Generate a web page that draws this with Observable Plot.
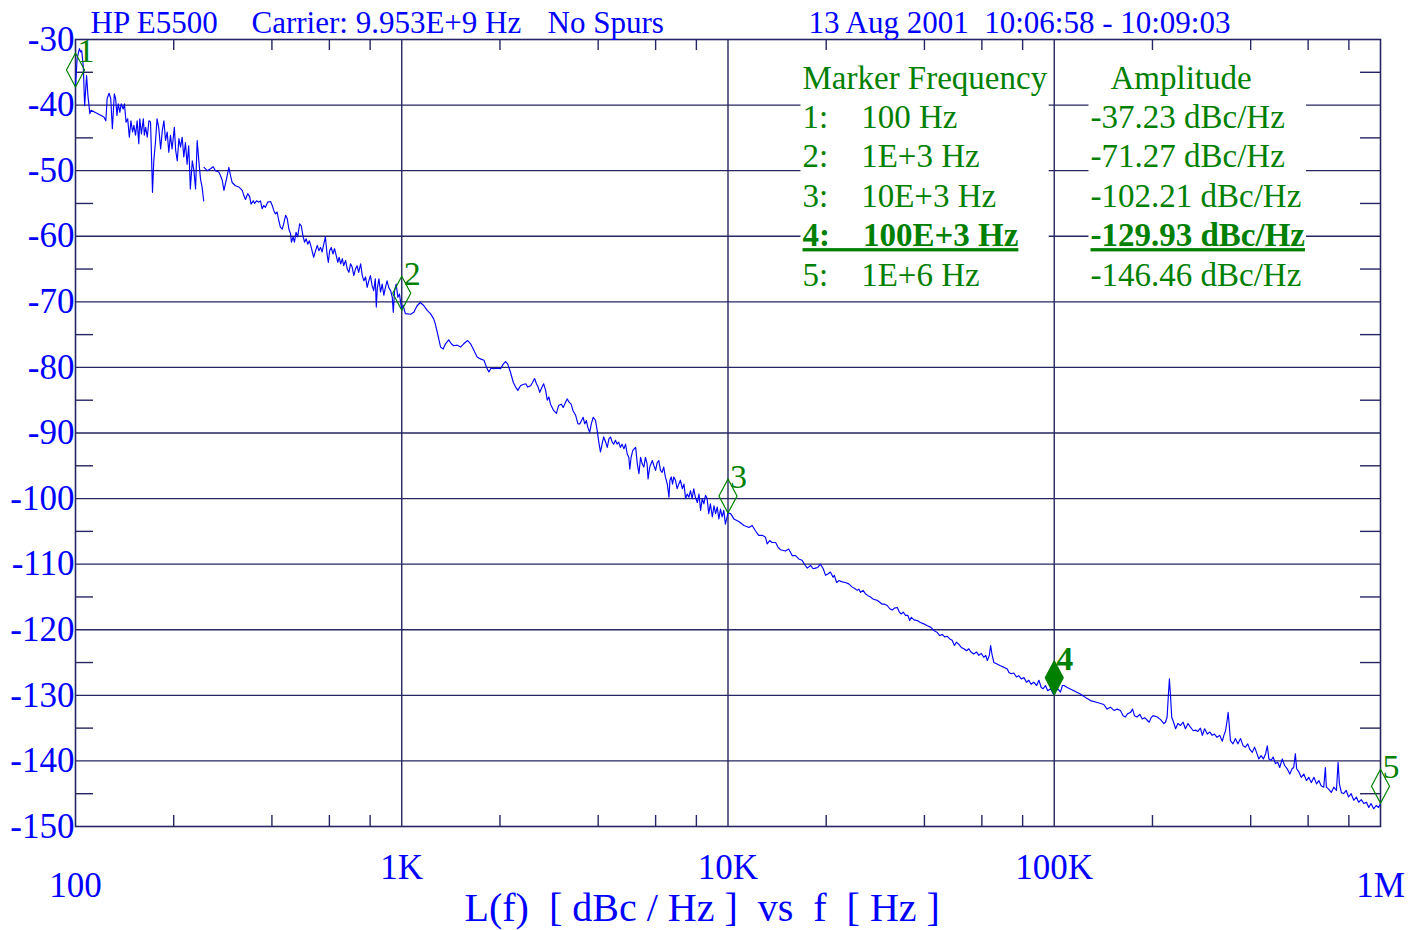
<!DOCTYPE html>
<html><head><meta charset="utf-8">
<script src="https://cdn.jsdelivr.net/npm/d3@7"></script>
<script src="https://cdn.jsdelivr.net/npm/@observablehq/plot@0.6"></script>
<style>
html,body{margin:0;padding:0;background:#fff;}
#chart svg{display:block;}
</style>
</head><body><div id="chart"></div>
<script>
// ---- data ----
// offset frequency as log10(Hz)
const traceLogF = [
2.000,2.005,2.012,2.016,2.019,2.024,2.028,2.034,2.038,2.044,2.048,2.087,2.093,2.097,2.103,2.108,2.113,2.119,2.123,2.127,
2.131,2.136,2.140,2.146,2.150,2.155,2.160,2.165,2.170,2.175,2.179,2.184,2.189,2.194,2.197,2.202,2.208,2.211,2.215,2.220,
2.225,2.230,2.234,2.236,2.240,2.245,2.250,2.255,2.261,2.266,2.271,2.276,2.281,2.286,2.291,2.296,2.303,2.307,2.312,2.317,
2.322,2.327,2.332,2.337,2.342,2.347,2.350,2.352,2.358,2.363,2.368,2.373,2.378,2.383,2.388,2.393,2.393,2.394,2.404,2.414,
2.422,2.429,2.439,2.444,2.450,2.455,2.463,2.470,2.475,2.480,2.490,2.501,2.511,2.516,2.521,2.528,2.534,2.538,2.545,2.549,
2.555,2.562,2.567,2.572,2.577,2.582,2.589,2.598,2.603,2.608,2.613,2.618,2.623,2.628,2.634,2.638,2.644,2.649,2.654,2.659,
2.662,2.667,2.671,2.676,2.681,2.687,2.692,2.697,2.702,2.707,2.712,2.717,2.721,2.726,2.730,2.736,2.741,2.746,2.751,2.756,
2.761,2.766,2.771,2.775,2.779,2.784,2.789,2.794,2.799,2.804,2.808,2.813,2.818,2.822,2.828,2.833,2.838,2.843,2.848,2.853,
2.858,2.863,2.868,2.874,2.879,2.884,2.889,2.894,2.899,2.904,2.909,2.914,2.919,2.922,2.925,2.930,2.935,2.940,2.945,2.950,
2.955,2.960,2.966,2.971,2.974,2.978,2.983,2.988,2.993,3.000,3.004,3.011,3.027,3.037,3.047,3.057,3.068,3.078,3.088,3.098,
3.103,3.110,3.119,3.127,3.134,3.144,3.152,3.159,3.170,3.180,3.190,3.202,3.211,3.221,3.231,3.241,3.252,3.260,3.267,3.274,
3.282,3.293,3.303,3.311,3.318,3.325,3.333,3.342,3.349,3.356,3.364,3.372,3.380,3.386,3.395,3.401,3.407,3.413,3.418,3.423,
3.430,3.435,3.441,3.446,3.451,3.456,3.461,3.466,3.474,3.481,3.489,3.495,3.502,3.507,3.513,3.519,3.525,3.533,3.540,3.546,
3.551,3.556,3.561,3.566,3.570,3.576,3.581,3.587,3.594,3.599,3.604,3.609,3.614,3.619,3.625,3.630,3.635,3.640,3.645,3.650,
3.655,3.660,3.665,3.670,3.675,3.681,3.686,3.691,3.696,3.699,3.703,3.708,3.713,3.717,3.722,3.727,3.732,3.737,3.742,3.747,
3.752,3.755,3.760,3.768,3.773,3.778,3.783,3.788,3.793,3.798,3.803,3.808,3.814,3.819,3.822,3.826,3.830,3.834,3.839,3.844,
3.849,3.854,3.860,3.865,3.870,3.875,3.880,3.885,3.890,3.895,3.900,3.906,3.911,3.916,3.921,3.926,3.931,3.936,3.941,3.946,
3.952,3.957,3.962,3.967,3.972,3.977,3.982,3.987,3.992,4.000,4.008,4.018,4.033,4.049,4.064,4.074,4.084,4.094,4.105,4.115,
4.120,4.128,4.135,4.146,4.153,4.161,4.176,4.186,4.197,4.207,4.217,4.227,4.237,4.243,4.253,4.261,4.268,4.275,4.283,4.292,
4.299,4.306,4.314,4.322,4.326,4.333,4.340,4.350,4.360,4.370,4.381,4.391,4.396,4.401,4.406,4.414,4.421,4.429,4.437,4.444,
4.450,4.457,4.465,4.473,4.480,4.488,4.496,4.503,4.510,4.519,4.525,4.531,4.537,4.544,4.551,4.557,4.562,4.570,4.580,4.590,
4.600,4.611,4.621,4.631,4.641,4.649,4.657,4.664,4.672,4.680,4.687,4.694,4.700,4.707,4.715,4.723,4.731,4.738,4.745,4.753,
4.762,4.769,4.776,4.784,4.790,4.795,4.801,4.805,4.809,4.815,4.823,4.835,4.845,4.856,4.861,4.868,4.876,4.884,4.891,4.899,
4.907,4.915,4.922,4.929,4.937,4.946,4.953,4.960,4.966,4.973,4.980,4.989,4.997,5.000,5.004,5.011,5.019,5.025,5.030,5.040,
5.060,5.080,5.101,5.111,5.132,5.152,5.162,5.172,5.183,5.193,5.203,5.211,5.218,5.225,5.234,5.240,5.246,5.254,5.262,5.270,
5.277,5.285,5.291,5.297,5.303,5.316,5.326,5.336,5.341,5.346,5.350,5.353,5.356,5.360,5.367,5.372,5.379,5.387,5.395,5.402,
5.410,5.418,5.426,5.433,5.440,5.448,5.454,5.461,5.469,5.477,5.484,5.491,5.499,5.507,5.515,5.520,5.525,5.530,5.533,5.536,
5.540,5.548,5.555,5.563,5.571,5.579,5.586,5.593,5.599,5.607,5.614,5.620,5.627,5.634,5.641,5.648,5.653,5.658,5.665,5.671,
5.678,5.685,5.691,5.699,5.706,5.714,5.722,5.729,5.734,5.739,5.743,5.750,5.757,5.765,5.773,5.780,5.788,5.796,5.804,5.811,
5.818,5.826,5.831,5.834,5.841,5.849,5.857,5.865,5.870,5.874,5.880,5.887,5.895,5.902,5.910,5.918,5.926,5.933,5.941,5.949,
5.957,5.964,5.971,5.979,5.987,5.994,6.000
];
// L(f) in dBc/Hz (NaN = break in the trace)
const traceDbc = [
-37.2,-32.9,-31.4,-31.9,-31.7,-34.2,-40.1,-35.5,-38.5,-41.3,-40.8,-41.8,-42.4,-39.0,-38.2,-39.0,-43.6,-38.3,-39.0,-41.6,
-39.8,-41.1,-39.8,-40.6,-39.8,-42.6,-42.1,-44.9,-42.4,-44.1,-43.1,-44.6,-42.4,-45.9,-42.1,-44.4,-42.1,-44.6,-43.4,-44.9,
-42.4,-42.6,-49.5,-53.3,-48.5,-45.7,-42.1,-43.4,-46.7,-43.9,-42.4,-45.4,-44.1,-47.2,-44.6,-46.7,-43.4,-46.9,-48.5,-45.1,
-46.4,-44.9,-47.9,-45.7,-49.0,-46.2,-50.0,-52.8,-48.5,-50.0,-52.8,-45.4,-48.5,-51.2,-52.5,-54.6,NaN,-49.5,-50.0,-49.7,
-49.4,-50.0,-50.2,-50.7,-51.5,-53.0,-51.2,-49.5,-50.7,-51.8,-52.3,-52.5,-53.0,-53.8,-54.4,-53.5,-54.0,-55.1,-54.6,-55.0,
-54.6,-54.8,-54.6,-55.8,-55.3,-55.6,-54.8,-54.7,-55.3,-56.1,-56.6,-56.3,-57.6,-58.6,-58.9,-58.1,-56.8,-57.3,-58.9,-59.6,
-60.9,-60.1,-60.9,-59.4,-60.1,-58.1,-58.4,-59.9,-60.9,-60.4,-61.2,-60.7,-61.4,-62.4,-63.2,-62.2,-61.4,-62.2,-61.7,-62.4,
-61.2,-60.1,-62.7,-64.0,-62.2,-61.7,-62.7,-61.9,-62.9,-64.0,-63.2,-64.2,-63.4,-64.5,-63.7,-65.0,-65.5,-64.2,-64.7,-66.0,
-65.0,-64.5,-65.5,-64.2,-66.0,-66.8,-66.2,-67.8,-66.8,-66.0,-67.5,-68.3,-66.5,-70.8,-68.0,-66.5,-68.5,-67.3,-69.0,-67.8,
-66.8,-67.8,-68.3,-69.3,-71.6,-68.3,-67.3,-69.3,-68.8,-71.3,-70.5,-71.8,-71.9,-71.6,-70.6,-70.1,-70.6,-71.3,-71.8,-72.6,
-73.4,-74.9,-76.9,-77.2,-76.4,-75.8,-76.4,-76.7,-76.6,-76.9,-76.4,-75.9,-76.4,-77.4,-78.4,-78.7,-78.9,-80.0,-80.7,-80.1,
-80.2,-80.1,-80.2,-79.5,-79.1,-79.5,-80.7,-82.3,-83.0,-83.5,-82.8,-82.6,-82.5,-83.0,-82.8,-82.3,-81.7,-82.5,-83.0,-83.8,
-83.0,-82.5,-83.5,-85.0,-84.5,-85.6,-86.1,-86.6,-87.0,-85.8,-85.6,-86.1,-85.3,-84.8,-85.3,-85.6,-86.6,-87.3,-88.6,-88.6,
-88.1,-87.6,-88.6,-88.1,-89.1,-89.9,-88.6,-87.6,-88.1,-89.6,-91.4,-92.9,-91.7,-90.6,-91.4,-92.2,-90.9,-90.6,-91.4,-91.7,
-91.1,-91.7,-91.4,-92.2,-91.7,-92.4,-91.7,-93.2,-93.7,-95.5,-93.7,-92.7,-92.4,-92.2,-94.7,-96.2,-93.7,-94.7,-95.2,-93.7,
-94.7,-97.0,-95.2,-94.2,-95.0,-95.7,-94.5,-94.2,-95.7,-96.0,-95.2,-96.7,-97.8,-99.8,-97.2,-96.7,-97.8,-96.7,-97.2,-98.5,
-97.8,-97.2,-98.5,-97.8,-100.0,-99.3,-99.8,-98.8,-100.0,-98.5,-99.8,-100.6,-99.3,-101.8,-100.0,-100.8,-99.5,-100.0,-102.3,-100.8,
-102.8,-101.1,-102.3,-101.3,-103.1,-101.6,-102.8,-101.8,-103.9,-102.2,-102.3,-103.1,-103.5,-104.1,-104.4,-104.1,-104.9,-105.6,-105.6,-105.9,
-106.9,-106.4,-106.7,-106.7,-107.4,-107.8,-108.0,-107.7,-108.7,-108.7,-109.2,-109.4,-110.2,-110.6,-110.2,-110.7,-110.6,-110.5,-110.0,-110.7,
-111.7,-111.5,-111.2,-112.0,-111.7,-112.8,-112.5,-112.7,-112.8,-113.0,-113.5,-113.8,-114.0,-113.8,-114.3,-114.0,-114.5,-114.8,-115.0,-115.3,
-115.4,-115.5,-115.8,-116.1,-116.1,-116.3,-116.8,-117.0,-116.7,-116.6,-117.3,-117.6,-117.3,-117.8,-117.8,-118.6,-118.1,-118.5,-118.6,-118.9,
-119.1,-119.4,-119.6,-120.1,-120.4,-120.9,-120.7,-121.1,-121.0,-121.4,-121.6,-122.4,-121.9,-122.2,-122.7,-122.9,-123.2,-122.9,-123.4,-123.7,
-123.4,-123.9,-123.6,-124.2,-123.9,-124.7,-123.9,-122.4,-123.7,-125.0,-125.2,-125.5,-125.7,-126.0,-126.5,-126.7,-126.6,-127.2,-127.0,-127.5,
-127.3,-128.0,-127.7,-128.3,-128.0,-128.5,-127.7,-128.8,-129.0,-128.5,-129.3,-129.0,-129.8,-129.9,-129.3,-129.0,-129.5,-128.5,-128.5,-128.8,
-129.3,-129.8,-130.5,-130.8,-131.1,-131.4,-132.1,-131.8,-132.3,-132.1,-132.3,-133.1,-133.3,-132.8,-132.6,-132.1,-133.1,-133.3,-132.9,-133.6,
-133.4,-133.8,-134.1,-133.4,-133.1,-133.3,-133.7,-134.3,-134.1,-133.3,-129.8,-127.5,-129.8,-133.3,-134.3,-135.1,-134.3,-134.6,-134.1,-135.1,
-134.3,-134.9,-135.4,-135.3,-135.5,-135.0,-136.1,-135.1,-135.9,-135.6,-136.1,-135.9,-136.4,-136.1,-137.0,-136.1,-135.4,-133.8,-132.6,-134.3,
-136.9,-137.4,-136.6,-137.4,-136.6,-137.7,-137.9,-137.4,-138.2,-138.7,-137.9,-138.7,-139.7,-139.2,-139.7,-138.9,-137.7,-139.7,-139.9,-139.4,
-140.4,-140.2,-141.0,-139.7,-140.7,-141.2,-142.0,-141.2,-141.0,-138.9,-141.2,-141.7,-142.5,-142.0,-143.0,-142.5,-143.3,-142.5,-143.5,-143.0,
-143.8,-144.0,-141.0,-144.0,-144.3,-144.8,-144.0,-144.5,-140.2,-143.5,-144.8,-145.0,-144.5,-145.5,-145.0,-146.0,-145.5,-146.3,-145.9,-146.5,
-146.3,-147.1,-146.5,-147.3,-146.8,-147.1,-146.5
];
const markerId = [1, 2, 3, 4, 5];
const markerFreq = [100, 1e3, 1e4, 1e5, 1e6];
const markerFreqLabel = ["100 Hz", "1E+3 Hz", "10E+3 Hz", "100E+3 Hz", "1E+6 Hz"];
const markerAmp = [-37.23, -71.27, -102.21, -129.93, -146.46];
const activeMarker = 4;
const yTicks = [-30, -40, -50, -60, -70, -80, -90, -100, -110, -120, -130, -140, -150];
const yMinor = [-35, -45, -55, -65, -75, -85, -95, -105, -115, -125, -135, -145];
const xTickValues = [100, 1e3, 1e4, 1e5, 1e6];
const xTickLabels = ["100", "1K", "10K", "100K", "1M"];
const xMinor = [200, 400, 600, 800, 2e3, 4e3, 6e3, 8e3, 2e4, 4e4, 6e4, 8e4, 2e5, 4e5, 6e5, 8e5];
const titleParts = ["HP E5500", "Carrier: 9.953E+9 Hz", "No Spurs", "13 Aug 2001\u00a0\u00a010:06:58 - 10:09:03"];
const tableHeaders = ["Marker Frequency", "Amplitude"];
const axisTitle = "L(f)\u00a0\u00a0[ dBc / Hz ]\u00a0\u00a0vs\u00a0\u00a0f\u00a0\u00a0[ Hz ]";

// ---- build ----
const W = 1420, H = 930;
const M = {top: 39, right: 40, bottom: 104, left: 75};
const frameW = W - M.left - M.right, frameH = H - M.top - M.bottom;
const BLUE = "#0000ff", GREEN = "#008000", GRID = "#262662";
const FONT = "Liberation Serif, Times New Roman, serif";

const trace = traceLogF.map((lf, i) => ({f: Math.pow(10, lf), L: traceDbc[i]}));
const markers = markerId.map((id, i) => ({id, f: markerFreq[i], L: markerAmp[i], label: markerFreqLabel[i]}));
const xTicks = xTickValues.map((v, i) => ({v, label: xTickLabels[i], end: i === 0 || i === xTickValues.length - 1}));

const tallDiamond = {
  draw(ctx) { ctx.moveTo(0, 0); ctx.lineTo(9, -17); ctx.lineTo(0, -34); ctx.lineTo(-9, -17); ctx.closePath(); }
};
const nb = n => "\u00a0".repeat(n);
const rowY0 = 49, rowStep = 39.4;

const tableMarks = [];
tableMarks.push(Plot.text([tableHeaders[0]], {frameAnchor: "top-left", dx: 727, dy: rowY0, text: d => d, textAnchor: "start", lineAnchor: "bottom", fontSize: 33, fill: GREEN, ariaDescription: "table-col1"}));
tableMarks.push(Plot.text([tableHeaders[1]], {frameAnchor: "top-left", dx: 1035, dy: rowY0, text: d => d, textAnchor: "start", lineAnchor: "bottom", fontSize: 33, fill: GREEN, ariaDescription: "table-col2"}));
markers.forEach((m, i) => {
  const active = m.id === activeMarker;
  tableMarks.push(Plot.text([m], {frameAnchor: "top-left", dx: 727, dy: rowY0 + rowStep * (i + 1), text: d => `${d.id}:${nb(4)}${d.label}`, textAnchor: "start", lineAnchor: "bottom", fontSize: 33, fontWeight: active ? "bold" : "normal", fill: GREEN, ariaDescription: active ? "table-col1 active" : "table-col1"}));
  tableMarks.push(Plot.text([m], {frameAnchor: "top-left", dx: 1015, dy: rowY0 + rowStep * (i + 1), text: d => `${d.L.toFixed(2)} dBc/Hz`, textAnchor: "start", lineAnchor: "bottom", fontSize: 33, fontWeight: active ? "bold" : "normal", fill: GREEN, ariaDescription: active ? "table-col2 active" : "table-col2"}));
});

const titleDx = [15, 176, 472, 733];

const chart = Plot.plot({
  width: W, height: H,
  marginTop: M.top, marginRight: M.right, marginBottom: M.bottom, marginLeft: M.left,
  style: {background: "white", fontFamily: FONT, overflow: "visible"},
  x: {type: "log", domain: [100, 1e6], axis: null},
  y: {domain: [-150, -30], axis: null},
  marks: [
    Plot.ruleY(yTicks.slice(1, -1), {y: d => d, stroke: GRID, strokeWidth: 1.4}),
    Plot.ruleX(xTickValues.slice(1, -1), {x: d => d, stroke: GRID, strokeWidth: 1.4}),
    Plot.tickX(xMinor, {x: d => d, insetBottom: frameH - 11, stroke: GRID, strokeWidth: 1.4}),
    Plot.tickX(xMinor, {x: d => d, insetTop: frameH - 11, stroke: GRID, strokeWidth: 1.4}),
    Plot.tickY(yMinor, {y: d => d, insetRight: frameW - 18, stroke: GRID, strokeWidth: 1.4}),
    Plot.tickY(yMinor, {y: d => d, insetLeft: frameW - 20, stroke: GRID, strokeWidth: 1.4}),
    Plot.frame({stroke: GRID, strokeWidth: 1.6}),
    Plot.line(trace, {x: "f", y: "L", stroke: BLUE, strokeWidth: 1.15}),
    Plot.dot(markers.filter(m => m.id !== activeMarker), {x: "f", y: "L", symbol: tallDiamond, r: 5, stroke: GREEN, fill: "none", strokeWidth: 1.2}),
    Plot.dot(markers.filter(m => m.id === activeMarker), {x: "f", y: "L", symbol: tallDiamond, r: 5, stroke: GREEN, fill: GREEN, strokeWidth: 1.2}),
    Plot.text(markers.filter(m => m.id !== activeMarker), {x: "f", y: "L", text: d => String(d.id), dx: 2, dy: -25, textAnchor: "start", lineAnchor: "bottom", fontSize: 34, fill: GREEN}),
    Plot.text(markers.filter(m => m.id === activeMarker), {x: "f", y: "L", text: d => String(d.id), dx: 2, dy: -25, textAnchor: "start", lineAnchor: "bottom", fontSize: 34, fontWeight: "bold", fill: GREEN}),
    ...tableMarks,
    Plot.text(yTicks, {y: d => d, frameAnchor: "left", text: d => String(d), textAnchor: "end", dx: -1, fontSize: 35, fill: BLUE}),
    Plot.text(xTicks.filter(t => !t.end), {x: "v", frameAnchor: "bottom", text: "label", dy: 52, lineAnchor: "bottom", fontSize: 35, fill: BLUE}),
    Plot.text(xTicks.filter(t => t.end), {x: "v", frameAnchor: "bottom", text: "label", dy: 70, lineAnchor: "bottom", fontSize: 35, fill: BLUE}),
    Plot.text([axisTitle], {frameAnchor: "bottom-left", dx: 389, dy: 94, text: d => d, textAnchor: "start", lineAnchor: "bottom", fontSize: 40, fill: BLUE}),
    ...titleParts.map((t, i) => Plot.text([t], {frameAnchor: "top-left", dx: titleDx[i], dy: -7, text: d => d, textAnchor: "start", lineAnchor: "bottom", fontSize: 31, fill: BLUE}))
  ]
});
document.getElementById("chart").appendChild(chart);

// white backing boxes behind the marker table, sized from the rendered text (screen coordinates)
const svgBox = chart.getBoundingClientRect();
const described = Array.from(chart.querySelectorAll("g[aria-description]"));
["table-col1", "table-col2"].forEach(cls => {
  const groups = described.filter(g => g.getAttribute("aria-description").split(" ")[0] === cls);
  if (!groups.length) return;
  let x0 = Infinity, y0 = Infinity, x1 = -Infinity, y1 = -Infinity;
  groups.forEach(g => g.querySelectorAll("text").forEach(t => {
    const b = t.getBoundingClientRect();
    x0 = Math.min(x0, b.left - svgBox.left); y0 = Math.min(y0, b.top - svgBox.top);
    x1 = Math.max(x1, b.right - svgBox.left); y1 = Math.max(y1, b.bottom - svgBox.top);
  }));
  const rect = document.createElementNS("http://www.w3.org/2000/svg", "rect");
  rect.setAttribute("x", x0 - 2); rect.setAttribute("y", y0 + 2);
  rect.setAttribute("width", x1 - x0 + 3); rect.setAttribute("height", y1 - y0 - 4);
  rect.setAttribute("fill", "white");
  groups[0].parentNode.insertBefore(rect, groups[0]);
});
// underline for the active marker row
described.forEach(g => {
  if (g.getAttribute("aria-description").includes("active")) g.querySelectorAll("text").forEach(t => t.style.textDecoration = "underline");
});
</script>
</body></html>
